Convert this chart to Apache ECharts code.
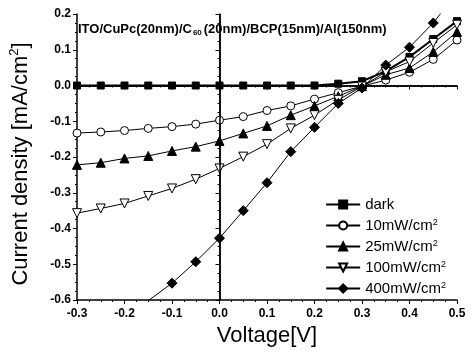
<!DOCTYPE html>
<html>
<head>
<meta charset="utf-8">
<script src="https://cdn.jsdelivr.net/npm/echarts@6/dist/echarts.min.js"></script>
<style>
  html, body { margin: 0; padding: 0; background: #fff; }
  #main { width: 473px; height: 355px; }
</style>
</head>
<body>
<div id="main"></div>
<script>
// voltage steps (V)
const voltage = [-0.3, -0.25, -0.2, -0.15, -0.1, -0.05, 0, 0.05, 0.1, 0.15, 0.2, 0.25, 0.3, 0.35, 0.4, 0.45, 0.5];

// current density (mA/cm^2)
const dark   = [0, 0, 0, 0, 0, 0, 0, 0, 0, 0, 0, 0.005, 0.012, 0.04, 0.08, 0.13, 0.18];
const p10    = [-0.133, -0.13, -0.126, -0.12, -0.115, -0.108, -0.097, -0.087, -0.07, -0.057, -0.038, -0.02, -0.002, 0.015, 0.037, 0.073, 0.127];
const p25    = [-0.222, -0.216, -0.204, -0.197, -0.183, -0.171, -0.155, -0.134, -0.113, -0.083, -0.057, -0.03, -0.002, 0.03, 0.049, 0.094, 0.15];
const p100   = [-0.357, -0.344, -0.33, -0.309, -0.288, -0.262, -0.232, -0.199, -0.164, -0.12, -0.083, -0.04, -0.003, 0.038, 0.067, 0.119, 0.17];
const p400   = [-0.78, -0.725, -0.665, -0.602, -0.553, -0.493, -0.427, -0.35, -0.272, -0.185, -0.117, -0.05, -0.007, 0.057, 0.107, 0.175, 0.26];

const names = ['dark', '10mW/cm2', '25mW/cm2', '100mW/cm2', '400mW/cm2'];

const pairs = (ys) => voltage.map((v, i) => [v, ys[i]]);

const mkSeries = (name, ys, symbol, fill, size, rotate, width) => ({
    name: name,
    type: 'line',
    data: pairs(ys),
    symbol: symbol,
    symbolSize: size,
    symbolRotate: rotate || 0,
    showAllSymbol: true,
    clip: true,
    lineStyle: { color: '#000', width: width || 1 },
    itemStyle: { color: fill, borderColor: '#000', borderWidth: 1 },
    emphasis: { disabled: true },
    z: 3
});

const series = [
    mkSeries(names[0], dark, 'rect', '#000', 7, 0, 2),
    mkSeries(names[1], p10, 'circle', '#fff', 8),
    mkSeries(names[2], p25, 'triangle', '#000', 9),
    mkSeries(names[3], p100, 'triangle', '#fff', 9, 180),
    mkSeries(names[4], p400, 'diamond', '#000', 10)
];

// zero lines across the frame
series[0].markLine = {
    silent: true,
    symbol: 'none',
    label: { show: false },
    lineStyle: { color: '#000', width: 1.5, type: 'solid' },
    data: [{ xAxis: 0 }, { yAxis: 0 }]
};

const tickFont = { fontFamily: 'Liberation Sans', fontWeight: 'bold', fontSize: 12, color: '#000' };

let myChart = echarts.init(document.getElementById('main'));
let option = {
    animation: false,
    backgroundColor: '#fff',
    title: {
        text: '{a|ITO/CuPc(20nm)/C}{s|60}{a|(20nm)/BCP(15nm)/Al(150nm)}',
        left: 73,
        top: 16,
        textStyle: {
            rich: {
                a: { fontFamily: 'Liberation Sans', fontWeight: 'bold', fontSize: 13, color: '#000' },
                s: { fontFamily: 'Liberation Sans', fontWeight: 'bold', fontSize: 8, color: '#000', verticalAlign: 'bottom', padding: [8, 2, 0, 1] }
            }
        }
    },
    legend: {
        orient: 'vertical',
        right: 22,
        top: 192,
        itemGap: 6,
        itemWidth: 34,
        itemHeight: 10,
        data: names,
        formatter: (n) => n === 'dark' ? '{a|dark}' : '{a|' + n.replace('cm2', 'cm') + '}{s|2}',
        textStyle: {
            rich: {
                a: { fontFamily: 'Liberation Sans', fontSize: 15, color: '#000' },
                s: { fontFamily: 'Liberation Sans', fontSize: 9, color: '#000', verticalAlign: 'top', padding: [0, 0, 6, 0] }
            }
        }
    },
    grid: { left: 70, right: 16, top: 14, bottom: 55 },
    xAxis: {
        type: 'value',
        min: -0.3,
        max: 0.5,
        interval: 0.1,
        name: 'Voltage[V]',
        nameLocation: 'middle',
        nameGap: 24,
        nameTextStyle: { fontFamily: 'Liberation Sans', fontSize: 22, color: '#000' },
        axisLine: { onZero: false, lineStyle: { color: '#000', width: 1.5 } },
        axisTick: { show: true, length: 4, lineStyle: { color: '#000' } },
        minorTick: { show: true, splitNumber: 4, length: 2, lineStyle: { color: '#000' } },
        splitLine: { show: false },
        axisLabel: Object.assign({ margin: 8, formatter: (v) => v.toFixed(1) }, tickFont)
    },
    yAxis: {
        type: 'value',
        min: -0.6,
        max: 0.2,
        interval: 0.1,
        name: 'Current density [mA/cm{s|2}]',
        nameLocation: 'middle',
        nameGap: 44,
        nameTextStyle: {
            fontFamily: 'Liberation Sans', fontSize: 22, color: '#000',
            padding: [0, 14, 0, 0],
            rich: { s: { fontFamily: 'Liberation Sans', fontSize: 13, color: '#000', verticalAlign: 'top', padding: [0, 0, 12, 0] } }
        },
        axisLine: { onZero: false, lineStyle: { color: '#000', width: 1.5 } },
        axisTick: { show: true, length: 4, lineStyle: { color: '#000' } },
        minorTick: { show: true, splitNumber: 4, length: 2, lineStyle: { color: '#000' } },
        splitLine: { show: false },
        axisLabel: Object.assign({ margin: 6, formatter: (v) => v.toFixed(1) }, tickFont)
    },
    series: series
};
option && myChart.setOption(option);

// frame on top/right with inward ticks
myChart.setOption({
    xAxis: [option.xAxis, {
        type: 'value', position: 'top', min: -0.3, max: 0.5, interval: 0.1,
        axisLine: { lineStyle: { color: '#000', width: 1.5 } },
        axisTick: { inside: true, length: 4, lineStyle: { color: '#000' } },
        minorTick: { show: true, splitNumber: 4, length: 2, lineStyle: { color: '#000' } },
        axisLabel: { show: false }, splitLine: { show: false }
    }],
    yAxis: [option.yAxis, {
        type: 'value', position: 'right', min: -0.6, max: 0.2, interval: 0.1,
        axisLine: { lineStyle: { color: '#000', width: 1.5 } },
        axisTick: { inside: true, length: 4, lineStyle: { color: '#000' } },
        minorTick: { show: true, splitNumber: 4, length: 2, lineStyle: { color: '#000' } },
        axisLabel: { show: false }, splitLine: { show: false }
    }]
});
</script>
</body>
</html>
